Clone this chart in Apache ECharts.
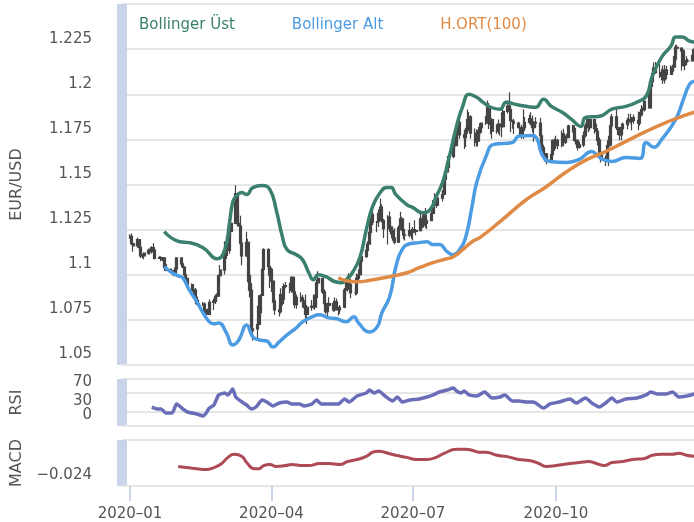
<!DOCTYPE html>
<html><head><meta charset="utf-8">
<script src="https://cdn.jsdelivr.net/npm/echarts@6/dist/echarts.min.js"></script>
<style>html,body{margin:0;padding:0;background:#fff}#c{width:694px;height:522px}</style>
</head><body><div id="c"></div><script>
// ---- EUR/USD daily 2020 (one value per weekday, Jan..Dec) ----
const opens = [
1.1213,1.1213,1.1172,1.1160,1.1195,1.1152,1.1105,1.1105,1.1120,1.1135,1.1128,1.1150,1.1136,1.1090,1.1095,1.1083,1.1093,1.1055,1.1025,1.1020,1.1020,1.1010,1.1032,
1.1093,1.1060,1.1043,1.1000,1.0980,1.0945,1.0910,1.0915,1.0875,1.0840,1.0830,1.0837,1.0790,1.0805,1.0780,1.0847,1.0853,1.0880,1.0882,1.0995,
1.1026,1.1135,1.1170,1.1135,1.1240,1.1285,1.1450,1.1285,1.1270,1.1175,1.1105,1.1180,1.0995,1.0915,1.0690,1.0700,1.0725,1.0790,1.0885,1.1030,1.1140,1.1045,
1.1030,1.0965,1.0855,1.0805,1.0795,1.0890,1.0865,1.0935,1.0940,1.0915,1.0985,1.0905,1.0835,1.0875,1.0865,1.0855,1.0825,1.0780,1.0820,1.0825,1.0820,1.0875,
1.0955,1.0980,1.0905,1.0840,1.0795,1.0830,1.0840,1.0805,1.0850,1.0815,1.0805,1.0820,1.0915,1.0920,1.0975,1.0945,1.0900,1.0900,1.0980,1.1000,1.1075,
1.1100,1.1135,1.1170,1.1235,1.1335,1.1290,1.1295,1.1340,1.1375,1.1300,1.1255,1.1320,1.1265,1.1245,1.1205,1.1180,1.1260,1.1310,1.1250,1.1220,1.1220,1.1245,
1.1235,1.1250,1.1240,1.1245,1.1310,1.1275,1.1330,1.1285,1.1300,1.1340,1.1410,1.1410,1.1385,1.1425,1.1445,1.1530,1.1570,1.1595,1.1655,1.1755,1.1715,1.1790,1.1845,
1.1775,1.1760,1.1800,1.1860,1.1875,1.1785,1.1735,1.1740,1.1785,1.1815,1.1840,1.1870,1.1930,1.1835,1.1860,1.1795,1.1795,1.1835,1.1830,1.1820,1.1905,
1.1935,1.1915,1.1855,1.1850,1.1840,1.1815,1.1780,1.1800,1.1815,1.1845,1.1865,1.1845,1.1815,1.1845,1.1840,1.1770,1.1705,1.1660,1.1670,1.1630,1.1665,1.1745,
1.1720,1.1745,1.1715,1.1780,1.1735,1.1760,1.1760,1.1825,1.1810,1.1745,1.1745,1.1705,1.1720,1.1770,1.1825,1.1860,1.1815,1.1860,1.1810,1.1795,1.1745,1.1675,
1.1645,1.1640,1.1715,1.1720,1.1825,1.1875,1.1815,1.1815,1.1775,1.1810,1.1835,1.1855,1.1860,1.1850,1.1870,1.1855,1.1840,1.1885,1.1915,1.1915,1.1960,
1.1925,1.2070,1.2115,1.2145,1.2120,1.2110,1.2100,1.2080,1.2135,1.2110,1.2145,1.2150,1.2195,1.2260,1.2255,1.2240,1.2160,1.2185,1.2185,1.2185,1.2215,1.2250,1.2300];
const closes = [
1.1213,1.1172,1.1160,1.1195,1.1152,1.1105,1.1105,1.1120,1.1135,1.1128,1.1150,1.1136,1.1090,1.1095,1.1083,1.1093,1.1055,1.1025,1.1020,1.1020,1.1010,1.1032,1.1093,
1.1060,1.1043,1.1000,1.0980,1.0945,1.0910,1.0915,1.0875,1.0840,1.0830,1.0837,1.0790,1.0805,1.0780,1.0847,1.0853,1.0880,1.0882,1.0995,1.1026,
1.1135,1.1170,1.1135,1.1240,1.1285,1.1450,1.1285,1.1270,1.1175,1.1105,1.1180,1.0995,1.0915,1.0690,1.0700,1.0725,1.0790,1.0885,1.1030,1.1140,1.1045,1.1030,
1.0965,1.0855,1.0805,1.0795,1.0890,1.0865,1.0935,1.0940,1.0915,1.0985,1.0905,1.0835,1.0875,1.0865,1.0855,1.0825,1.0780,1.0820,1.0825,1.0820,1.0875,1.0955,
1.0980,1.0905,1.0840,1.0795,1.0830,1.0840,1.0805,1.0850,1.0815,1.0805,1.0820,1.0915,1.0920,1.0975,1.0945,1.0900,1.0900,1.0980,1.1000,1.1075,1.1100,
1.1135,1.1170,1.1235,1.1335,1.1290,1.1295,1.1340,1.1375,1.1300,1.1255,1.1320,1.1265,1.1245,1.1205,1.1180,1.1260,1.1310,1.1250,1.1220,1.1220,1.1245,1.1235,
1.1250,1.1240,1.1245,1.1310,1.1275,1.1330,1.1285,1.1300,1.1340,1.1410,1.1410,1.1385,1.1425,1.1445,1.1530,1.1570,1.1595,1.1655,1.1755,1.1715,1.1790,1.1845,1.1775,
1.1760,1.1800,1.1860,1.1875,1.1785,1.1735,1.1740,1.1785,1.1815,1.1840,1.1870,1.1930,1.1835,1.1860,1.1795,1.1795,1.1835,1.1830,1.1820,1.1905,1.1935,
1.1915,1.1855,1.1850,1.1840,1.1815,1.1780,1.1800,1.1815,1.1845,1.1865,1.1845,1.1815,1.1845,1.1840,1.1770,1.1705,1.1660,1.1670,1.1630,1.1665,1.1745,1.1720,
1.1745,1.1715,1.1780,1.1735,1.1760,1.1760,1.1825,1.1810,1.1745,1.1745,1.1705,1.1720,1.1770,1.1825,1.1860,1.1815,1.1860,1.1810,1.1795,1.1745,1.1675,1.1645,
1.1640,1.1715,1.1720,1.1825,1.1875,1.1815,1.1815,1.1775,1.1810,1.1835,1.1855,1.1860,1.1850,1.1870,1.1855,1.1840,1.1885,1.1915,1.1915,1.1960,1.1925,
1.2070,1.2115,1.2145,1.2120,1.2110,1.2100,1.2080,1.2135,1.2110,1.2145,1.2150,1.2195,1.2260,1.2255,1.2240,1.2160,1.2185,1.2185,1.2185,1.2215,1.2250,1.2300,1.2215];
const lows = [
1.1200,1.1163,1.1128,1.1150,1.1137,1.1093,1.1092,1.1086,1.1111,1.1112,1.1118,1.1129,1.1085,1.1087,1.1075,1.1075,1.1036,1.1019,1.1011,1.1011,1.0992,1.0998,1.1019,
1.1055,1.1037,1.0998,1.0975,1.0940,1.0905,1.0891,1.0870,1.0833,1.0827,1.0828,1.0785,1.0785,1.0778,1.0779,1.0805,1.0838,1.0858,1.0878,1.0953,
1.1001,1.1087,1.1104,1.1117,1.1211,1.1280,1.1271,1.1268,1.1157,1.1053,1.1100,1.0959,1.0875,1.0654,1.0636,1.0636,1.0720,1.0768,1.0878,1.0968,1.0994,1.0927,
1.0904,1.0845,1.0778,1.0769,1.0785,1.0830,1.0838,1.0925,1.0897,1.0900,1.0880,1.0814,1.0812,1.0848,1.0818,1.0815,1.0757,1.0727,1.0800,1.0812,1.0806,1.0833,
1.0934,1.0895,1.0829,1.0782,1.0766,1.0816,1.0795,1.0797,1.0806,1.0774,1.0784,1.0815,1.0886,1.0907,1.0933,1.0870,1.0885,1.0888,1.0963,1.0986,1.1068,
1.1094,1.1122,1.1166,1.1212,1.1274,1.1235,1.1264,1.1330,1.1290,1.1204,1.1168,1.1238,1.1223,1.1188,1.1169,1.1176,1.1246,1.1243,1.1196,1.1190,1.1208,1.1200,
1.1190,1.1233,1.1219,1.1240,1.1257,1.1262,1.1260,1.1253,1.1296,1.1333,1.1384,1.1370,1.1381,1.1406,1.1436,1.1507,1.1556,1.1582,1.1645,1.1694,1.1712,1.1729,1.1753,
1.1696,1.1708,1.1781,1.1818,1.1754,1.1711,1.1711,1.1711,1.1764,1.1787,1.1829,1.1862,1.1808,1.1779,1.1753,1.1781,1.1781,1.1771,1.1762,1.1815,1.1893,
1.1901,1.1789,1.1809,1.1780,1.1812,1.1765,1.1753,1.1752,1.1804,1.1835,1.1827,1.1790,1.1737,1.1818,1.1725,1.1690,1.1650,1.1627,1.1612,1.1630,1.1659,1.1685,
1.1696,1.1695,1.1706,1.1731,1.1725,1.1734,1.1756,1.1788,1.1737,1.1721,1.1689,1.1699,1.1708,1.1760,1.1812,1.1789,1.1800,1.1782,1.1776,1.1717,1.1650,1.1622,
1.1603,1.1632,1.1603,1.1710,1.1810,1.1802,1.1774,1.1744,1.1745,1.1784,1.1806,1.1826,1.1838,1.1801,1.1836,1.1800,1.1825,1.1877,1.1900,1.1905,1.1925,
1.1925,1.2040,1.2110,1.2112,1.2090,1.2078,1.2058,1.2059,1.2083,1.2114,1.2114,1.2125,1.2179,1.2226,1.2131,1.2153,1.2133,1.2160,1.2175,1.2180,1.2205,1.2246,1.2208];
const highs = [
1.1225,1.1229,1.1180,1.1206,1.1198,1.1167,1.1117,1.1125,1.1146,1.1144,1.1158,1.1174,1.1141,1.1103,1.1102,1.1099,1.1098,1.1064,1.1034,1.1034,1.1027,1.1040,1.1097,
1.1095,1.1066,1.1047,1.1009,1.0982,1.0951,1.0933,1.0926,1.0879,1.0862,1.0849,1.0848,1.0812,1.0812,1.0863,1.0868,1.0890,1.0896,1.1002,1.1054,
1.1185,1.1214,1.1178,1.1250,1.1355,1.1496,1.1452,1.1357,1.1327,1.1206,1.1238,1.1199,1.1014,1.0954,1.0831,1.0828,1.0886,1.0892,1.1031,1.1147,1.1147,1.1068,
1.1039,1.0970,1.0863,1.0833,1.0925,1.0893,1.0952,1.0960,1.0956,1.0991,1.0990,1.0925,1.0890,1.0902,1.0888,1.0875,1.0890,1.0832,1.0860,1.0890,1.0889,1.0973,
1.1019,1.0981,1.0919,1.0853,1.0845,1.0875,1.0856,1.0874,1.0868,1.0822,1.0833,1.0926,1.0976,1.0996,1.1008,1.0955,1.0926,1.1007,1.1031,1.1092,1.1147,
1.1155,1.1185,1.1258,1.1362,1.1384,1.1298,1.1361,1.1422,1.1390,1.1310,1.1330,1.1350,1.1286,1.1259,1.1257,1.1273,1.1349,1.1321,1.1252,1.1247,1.1290,1.1255,
1.1265,1.1302,1.1253,1.1345,1.1322,1.1347,1.1370,1.1310,1.1375,1.1413,1.1452,1.1441,1.1438,1.1470,1.1540,1.1601,1.1625,1.1660,1.1780,1.1771,1.1806,1.1856,1.1909,
1.1798,1.1814,1.1916,1.1902,1.1883,1.1810,1.1806,1.1802,1.1840,1.1843,1.1880,1.1966,1.1951,1.1885,1.1867,1.1834,1.1860,1.1836,1.1900,1.1918,1.1966,
1.2011,1.1937,1.1857,1.1864,1.1847,1.1836,1.1829,1.1917,1.1874,1.1887,1.1900,1.1882,1.1852,1.1872,1.1870,1.1783,1.1720,1.1686,1.1674,1.1683,1.1750,1.1755,
1.1770,1.1753,1.1799,1.1809,1.1772,1.1780,1.1831,1.1831,1.1815,1.1772,1.1749,1.1737,1.1794,1.1839,1.1881,1.1864,1.1860,1.1858,1.1837,1.1802,1.1760,1.1690,
1.1660,1.1745,1.1770,1.1837,1.1891,1.1920,1.1827,1.1818,1.1820,1.1843,1.1868,1.1892,1.1892,1.1874,1.1888,1.1905,1.1902,1.1941,1.1928,1.1965,1.2004,
1.2077,1.2122,1.2176,1.2178,1.2168,1.2138,1.2159,1.2162,1.2157,1.2159,1.2163,1.2212,1.2273,1.2274,1.2260,1.2250,1.2194,1.2210,1.2197,1.2250,1.2275,1.2310,1.2310];

// ---- indicator lines ----
const bollingerUpper = [
['2020-01-23',1.1239],['2020-02-02',1.1183],['2020-02-08',1.1178],['2020-02-17',1.1150],['2020-02-26',1.1089],
['2020-03-02',1.1139],['2020-03-05',1.1289],['2020-03-07',1.1400],['2020-03-09',1.1433],['2020-03-13',1.1456],
['2020-03-16',1.1444],['2020-03-20',1.1483],['2020-03-26',1.1494],['2020-03-31',1.1472],['2020-04-04',1.1361],
['2020-04-08',1.1211],['2020-04-11',1.1139],['2020-04-17',1.1111],['2020-04-21',1.1083],['2020-04-25',1.1011],
['2020-04-28',1.0972],['2020-05-01',1.1000],['2020-05-06',1.0989],['2020-05-12',1.0961],['2020-05-16',1.0956],
['2020-05-19',1.0972],['2020-05-23',1.1011],['2020-05-28',1.1100],['2020-06-01',1.1250],['2020-06-05',1.1378],
['2020-06-10',1.1456],['2020-06-14',1.1483],['2020-06-17',1.1483],['2020-06-20',1.1444],['2020-06-27',1.1389],
['2020-07-01',1.1372],['2020-07-07',1.1344],['2020-07-12',1.1361],['2020-07-16',1.1433],['2020-07-20',1.1511],
['2020-07-24',1.1639],['2020-07-29',1.1822],['2020-08-02',1.1933],['2020-08-06',1.2000],['2020-08-11',1.1983],
['2020-08-15',1.1956],['2020-08-20',1.1928],['2020-08-26',1.1917],['2020-08-30',1.1956],['2020-09-05',1.1944],
['2020-09-12',1.1933],['2020-09-18',1.1928],['2020-09-23',1.1972],['2020-09-28',1.1933],['2020-10-05',1.1900],
['2020-10-11',1.1861],['2020-10-17',1.1822],['2020-10-20',1.1872],['2020-10-29',1.1878],['2020-11-06',1.1917],
['2020-11-15',1.1933],['2020-11-22',1.1956],['2020-11-28',1.1989],['2020-12-02',1.2100],['2020-12-08',1.2206],
['2020-12-14',1.2267],['2020-12-17',1.2317],['2020-12-21',1.2317],['2020-12-26',1.2294],['2020-12-29',1.2289]];
const bollingerLower = [
['2020-01-23',1.1044],['2020-01-28',1.1011],['2020-02-01',1.0994],['2020-02-04',1.0983],['2020-02-08',1.0917],
['2020-02-13',1.0850],['2020-02-17',1.0789],['2020-02-21',1.0739],['2020-02-24',1.0728],['2020-02-27',1.0733],
['2020-03-03',1.0678],['2020-03-07',1.0611],['2020-03-11',1.0639],['2020-03-16',1.0722],['2020-03-20',1.0656],
['2020-03-24',1.0639],['2020-03-29',1.0633],['2020-04-02',1.0600],['2020-04-06',1.0628],['2020-04-11',1.0667],
['2020-04-17',1.0706],['2020-04-21',1.0739],['2020-04-27',1.0767],['2020-05-02',1.0778],['2020-05-08',1.0761],
['2020-05-13',1.0756],['2020-05-19',1.0739],['2020-05-24',1.0767],['2020-05-27',1.0733],['2020-06-03',1.0683],
['2020-06-08',1.0711],['2020-06-11',1.0789],['2020-06-16',1.0878],['2020-06-20',1.1044],['2020-06-24',1.1139],
['2020-06-29',1.1172],['2020-07-05',1.1178],['2020-07-10',1.1183],['2020-07-14',1.1167],['2020-07-18',1.1167],
['2020-07-23',1.1128],['2020-07-27',1.1111],['2020-07-31',1.1139],['2020-08-04',1.1211],['2020-08-08',1.1378],
['2020-08-11',1.1511],['2020-08-17',1.1656],['2020-08-22',1.1722],['2020-09-03',1.1733],['2020-09-07',1.1767],
['2020-09-16',1.1772],['2020-09-19',1.1750],['2020-09-22',1.1667],['2020-09-27',1.1628],['2020-10-08',1.1622],
['2020-10-16',1.1639],['2020-10-24',1.1683],['2020-10-27',1.1667],['2020-10-31',1.1639],['2020-11-06',1.1628],
['2020-11-15',1.1650],['2020-11-24',1.1644],['2020-11-28',1.1733],['2020-12-03',1.1706],['2020-12-08',1.1750],
['2020-12-17',1.1861],['2020-12-22',1.1972],['2020-12-26',1.2056],['2020-12-29',1.2072]];
const movingAvg100 = [
['2020-05-14',1.0983],['2020-05-19',1.0967],['2020-05-26',1.0961],['2020-06-05',1.0972],['2020-06-16',1.0989],
['2020-06-27',1.1011],['2020-07-05',1.1039],['2020-07-14',1.1067],['2020-07-23',1.1089],['2020-07-27',1.1100],
['2020-08-02',1.1139],['2020-08-08',1.1183],['2020-08-13',1.1206],['2020-08-26',1.1294],['2020-09-12',1.1417],
['2020-09-25',1.1489],['2020-10-08',1.1572],['2020-10-21',1.1639],['2020-11-02',1.1683],['2020-11-15',1.1739],
['2020-11-28',1.1794],['2020-12-11',1.1844],['2020-12-21',1.1878],['2020-12-29',1.1900]];
const rsi = [
['2020-01-15',40.4],['2020-01-19',36.2],['2020-01-21',36.2],['2020-01-24',27.7],['2020-01-28',27.7],['2020-01-31',46.8],
['2020-02-04',36.2],['2020-02-07',29.8],['2020-02-13',25.5],['2020-02-17',21.3],['2020-02-19',27.7],['2020-02-21',38.3],
['2020-02-24',44.7],['2020-02-27',66.0],['2020-03-02',70.2],['2020-03-04',66.0],['2020-03-07',78.7],['2020-03-09',61.7],
['2020-03-13',51.1],['2020-03-16',44.7],['2020-03-19',36.2],['2020-03-22',40.4],['2020-03-26',55.3],['2020-03-29',51.1],
['2020-04-02',42.6],['2020-04-06',48.9],['2020-04-11',51.1],['2020-04-14',46.8],['2020-04-19',46.8],['2020-04-22',42.6],
['2020-04-27',46.8],['2020-04-30',55.3],['2020-05-03',46.8],['2020-05-10',46.8],['2020-05-14',46.8],['2020-05-18',57.4],
['2020-05-21',51.1],['2020-05-26',63.8],['2020-06-01',70.2],['2020-06-03',76.6],['2020-06-06',70.2],['2020-06-09',74.5],
['2020-06-13',63.8],['2020-06-18',53.2],['2020-06-21',61.7],['2020-06-24',51.1],['2020-06-29',55.3],['2020-07-05',57.4],
['2020-07-10',61.7],['2020-07-14',66.0],['2020-07-18',72.3],['2020-07-23',76.6],['2020-07-27',80.9],['2020-07-29',74.5],
['2020-08-01',70.2],['2020-08-03',74.5],['2020-08-06',66.0],['2020-08-11',63.8],['2020-08-16',72.3],['2020-08-21',59.6],
['2020-08-26',61.7],['2020-08-29',66.0],['2020-09-03',53.2],['2020-09-07',53.2],['2020-09-12',51.1],['2020-09-16',51.1],
['2020-09-18',48.9],['2020-09-23',38.3],['2020-09-27',46.8],['2020-10-03',51.1],['2020-10-10',57.4],['2020-10-14',48.9],
['2020-10-20',59.6],['2020-10-24',48.9],['2020-10-29',40.4],['2020-11-02',48.9],['2020-11-06',59.6],['2020-11-09',51.1],
['2020-11-15',57.4],['2020-11-22',59.6],['2020-11-28',66.0],['2020-12-01',72.3],['2020-12-05',68.1],['2020-12-11',68.1],
['2020-12-15',72.3],['2020-12-19',61.7],['2020-12-24',63.8],['2020-12-29',68.1]];
const macd = [
['2020-02-01',-0.0037],['2020-02-06',-0.0048],['2020-02-13',-0.0059],['2020-02-19',-0.0069],['2020-02-24',-0.0048],
['2020-02-29',-0.0005],['2020-03-04',0.0059],['2020-03-08',0.0091],['2020-03-13',0.0069],['2020-03-16',0.0005],
['2020-03-21',-0.0059],['2020-03-24',-0.0059],['2020-03-27',-0.0027],['2020-03-31',-0.0016],['2020-04-04',-0.0037],
['2020-04-10',-0.0027],['2020-04-14',-0.0016],['2020-04-21',-0.0027],['2020-04-25',-0.0027],['2020-05-02',-0.0005],
['2020-05-08',-0.0005],['2020-05-15',-0.0016],['2020-05-20',0.0016],['2020-05-26',0.0037],['2020-06-01',0.0069],
['2020-06-05',0.0112],['2020-06-09',0.0123],['2020-06-15',0.0101],['2020-06-20',0.0080],['2020-06-27',0.0059],
['2020-07-03',0.0037],['2020-07-10',0.0037],['2020-07-16',0.0059],['2020-07-21',0.0101],['2020-07-29',0.0144],
['2020-08-04',0.0144],['2020-08-08',0.0133],['2020-08-13',0.0112],['2020-08-17',0.0112],['2020-08-24',0.0080],
['2020-08-30',0.0069],['2020-09-07',0.0037],['2020-09-14',0.0027],['2020-09-20',-0.0005],['2020-09-25',-0.0037],
['2020-10-01',-0.0027],['2020-10-10',-0.0005],['2020-10-16',0.0005],['2020-10-22',0.0016],['2020-10-27',-0.0005],
['2020-11-01',-0.0027],['2020-11-06',0.0005],['2020-11-13',0.0016],['2020-11-19',0.0037],['2020-11-27',0.0048],
['2020-12-02',0.0080],['2020-12-08',0.0091],['2020-12-15',0.0091],['2020-12-19',0.0101],['2020-12-24',0.0080],['2020-12-29',0.0069]];

const xTickDates = ['2020-01-01','2020-04-01','2020-07-01','2020-10-01'];
const rsiTicks = [30, 70, 0];
const rsiGridValues = [0, 30, 70, 100];
const macdTicks = [-0.024];

// ---- build ----
function ymd(d){return d.getFullYear()+'-'+String(d.getMonth()+1).padStart(2,'0')+'-'+String(d.getDate()).padStart(2,'0');}
const ts = s => { const p = s.split('-'); return Date.UTC(+p[0], +p[1]-1, +p[2]); };
const tradingDays = [];
for (let d = new Date(2020,0,1); d.getFullYear() === 2020; d.setDate(d.getDate()+1)) {
  const w = d.getDay(); if (w !== 0 && w !== 6) tradingDays.push(ymd(d));
}
const candles = tradingDays.map((t,i)=>[ts(t), opens[i], closes[i], lows[i], highs[i]]);
const pts = arr => arr.map(p => [ts(p[0]), p[1]]);

const FONT = 'DejaVu Sans';
const GREEN = '#3b7f6e', BLUE = '#4b9ce2', ORANGE = '#e08b45', PURPLE = '#6a6db8', RED = '#ad4a55', CANDLE = '#444444';
const TXT = '#555';
const BAND = '#c9d4ea', GRIDC = '#e6e6e6';
const X_MIN = Date.UTC(2019,11,26,20);
const X_MAX = Date.UTC(2020,11,28,19);

function xAxisFor(gi, bottom){
  return {
    type:'value', gridIndex:gi, min:X_MIN, max:X_MAX, scale:true,
    splitLine:{show:false},
    axisLine:{show:true, onZero:false, lineStyle:{color: GRIDC, width:2}},
    axisTick: bottom ? {show:true, customValues: xTickDates.map(ts), length:15, lineStyle:{color:BAND, width:2}} : {show:false},
    axisLabel: bottom ? {show:true, customValues: xTickDates.map(ts), margin:21, color:TXT, fontFamily:FONT, fontSize:15,
      formatter: v => { const d = new Date(v); return d.getUTCFullYear() + '\u2013' + String(d.getUTCMonth()+1).padStart(2,'0'); }} : {show:false}
  };
}
const nameStyle = {color:TXT, fontFamily:FONT, fontSize:16};
const labelBase = {color:TXT, fontFamily:FONT, fontSize:15, margin:30, verticalAlign:'bottom', padding:[0,0,3,0]};
const bandLine = {show:true, onZero:false, lineStyle:{color:BAND, width:10, cap:'butt'}};

const option = {
  animation:false,
  backgroundColor:'#fff',
  legend:{
    top:13, left:128, itemGap:51, itemWidth:0, itemHeight:0,
    textStyle:{fontFamily:FONT, fontSize:15},
    data:[
      {name:'Bollinger Üst', textStyle:{color:GREEN}},
      {name:'Bollinger Alt', textStyle:{color:BLUE}},
      {name:'H.ORT(100)', textStyle:{color:ORANGE}}
    ]
  },
  grid:[
    {left:122, right:0, top:4, height:361},
    {left:122, right:0, top:379, height:47},
    {left:122, right:0, top:440, height:46}
  ],
  xAxis:[xAxisFor(0,false), xAxisFor(1,false), xAxisFor(2,true)],
  yAxis:[
    {gridIndex:0, type:'value', min:1.05, max:1.25, interval:0.025,
     name:'EUR/USD', nameLocation:'middle', nameGap:97, nameRotate:90, nameTextStyle:nameStyle,
     axisLine:bandLine, axisTick:{show:false},
     splitLine:{lineStyle:{color:GRIDC, width:2}},
     axisLabel:Object.assign({showMaxLabel:false, showMinLabel:true}, labelBase)},
    {gridIndex:1, type:'value', min:0, max:100,
     name:'RSI', nameLocation:'middle', nameGap:97, nameRotate:90, nameTextStyle:nameStyle,
     axisLine:bandLine,
     axisTick:{show:false, customValues:rsiGridValues},
     splitLine:{lineStyle:{color:GRIDC, width:2}},
     axisLabel:Object.assign({customValues:rsiTicks, showMinLabel:true, showMaxLabel:true}, labelBase)},
    {gridIndex:2, type:'value', min:-0.024, max:0.024, interval:0.048,
     name:'MACD', nameLocation:'middle', nameGap:97, nameRotate:90, nameTextStyle:nameStyle,
     axisLine:bandLine, axisTick:{show:false},
     splitLine:{lineStyle:{color:GRIDC, width:2}},
     axisLabel:Object.assign({customValues:macdTicks, showMinLabel:true, formatter: v => (v < 0 ? '\u2212' : '') + Math.abs(v).toFixed(3)}, labelBase)}
  ],
  series:[
    {type:'candlestick', name:'EUR/USD', xAxisIndex:0, yAxisIndex:0, data:candles, barWidth:2.5,
     encode:{x:0, y:[1,2,3,4]},
     itemStyle:{color:CANDLE, color0:CANDLE, borderColor:CANDLE, borderColor0:CANDLE, borderWidth:1.2}},
    {type:'line', name:'Bollinger Üst', xAxisIndex:0, yAxisIndex:0, data:pts(bollingerUpper), smooth:true, showSymbol:false,
     lineStyle:{color:GREEN, width:3.5}, itemStyle:{color:GREEN}},
    {type:'line', name:'Bollinger Alt', xAxisIndex:0, yAxisIndex:0, data:pts(bollingerLower), smooth:true, showSymbol:false,
     lineStyle:{color:BLUE, width:3.5}, itemStyle:{color:BLUE}},
    {type:'line', name:'H.ORT(100)', xAxisIndex:0, yAxisIndex:0, data:pts(movingAvg100), smooth:true, showSymbol:false,
     lineStyle:{color:ORANGE, width:3.5}, itemStyle:{color:ORANGE}},
    {type:'line', name:'RSI', xAxisIndex:1, yAxisIndex:1, data:pts(rsi), smooth:0.2, showSymbol:false,
     lineStyle:{color:PURPLE, width:3.5}, itemStyle:{color:PURPLE}},
    {type:'line', name:'MACD', xAxisIndex:2, yAxisIndex:2, data:pts(macd), smooth:true, showSymbol:false,
     lineStyle:{color:RED, width:3}, itemStyle:{color:RED}}
  ]
};
const chart = echarts.init(document.getElementById('c'), null, {renderer:'canvas'});
chart.setOption(option);
</script></body></html>
